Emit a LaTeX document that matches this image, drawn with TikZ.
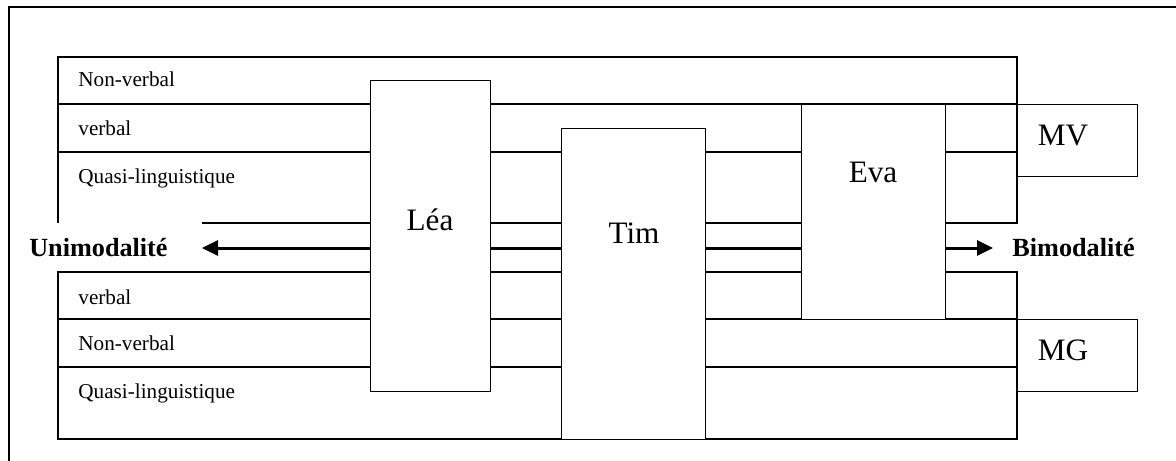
\documentclass[tikz,border=0pt]{standalone}
\usepackage{fontspec}
\setmainfont{Liberation Serif}
\usetikzlibrary{positioning}
\usetikzlibrary{arrows.meta}
\tikzset{%
	% Specifications for lines and boxes:
	rule/.style = {line width=0.65pt},
	band/.style = {rule, draw=black},
	box/.style = {rectangle, draw=black, rule, fill=white,
		inner sep=0pt, anchor=north west},
	rowtext/.style = {inner sep=0pt, anchor=base west,
		font=\fontsize{10.6pt}{12pt}\selectfont},
	nametext/.style = {inner sep=0pt, anchor=base,
		font=\fontsize{15.6pt}{18pt}\selectfont},
	poletext/.style = {inner sep=0pt,
		font=\fontsize{13.1pt}{15pt}\selectfont\bfseries},
	axisline/.style = {line width=1.5pt},
	axisarrow/.style = {axisline, -{Triangle[length=8pt, width=7.5pt]}},
}
\begin{document}
\begin{tikzpicture}[x=0.5pt, y=-0.5pt]
\useasboundingbox (0,0) rectangle (1176,460);
% frame
\draw[rule] (9,480) -- (9,7) -- (1200,7);
% upper band
\draw[band] (58,223) -- (58,57) -- (1017,57) -- (1017,223) -- (202,223);
\draw[band] (58,104) -- (1017,104);
\draw[band] (58,152) -- (1017,152);
\node (upNonVerbal) [rowtext] at (78,87) {Non-verbal};
\node (upVerbal) [rowtext] at (78,135) {verbal};
\node (upQuasi) [rowtext] at (78,183) {Quasi-linguistique};
% lower band
\draw[band] (58,272) rectangle (1017,439);
\draw[band] (58,319) -- (1017,319);
\draw[band] (58,367) -- (1017,367);
\node (lowVerbal) [rowtext] at (78,304) {verbal};
\node (lowNonVerbal) [rowtext] at (78,350) {Non-verbal};
\node (lowQuasi) [rowtext] at (78,398) {Quasi-linguistique};
% children
\node (lea) [box, minimum width=60pt, minimum height=155.5pt] at (370,80) {};
\node (tim) [box, minimum width=72pt, minimum height=155.5pt] at (561,128) {};
\node (eva) [box, minimum width=72pt, minimum height=107.5pt] at (801,104) {};
\node (mv) [box, minimum width=60pt, minimum height=36pt] at (1017,104) {};
\node (mg) [box, minimum width=60pt, minimum height=36pt] at (1017,319) {};
\node (leaName) [nametext] at (430,230) {Léa};
\node (timName) [nametext] at (634,243) {Tim};
\node (evaName) [nametext] at (873,182) {Eva};
\node (mvName) [nametext] at (1063,145) {MV};
\node (mgName) [nametext] at (1063,360) {MG};
% axis
\coordinate (uniTip) at (202,248);
\coordinate (biTip) at (993,248);
\node (uni) [poletext, left=17pt of uniTip] {Unimodalité};
\node (bi) [poletext, right=9.5pt of biTip] {Bimodalité};
\draw[axisarrow] (lea.west |- uniTip) -- (uniTip);
\draw[axisline] (lea.east |- uniTip) -- (tim.west |- uniTip);
\draw[axisline] (tim.east |- uniTip) -- (eva.west |- uniTip);
\draw[axisarrow] (eva.east |- biTip) -- (biTip);
\end{tikzpicture}
\end{document}
